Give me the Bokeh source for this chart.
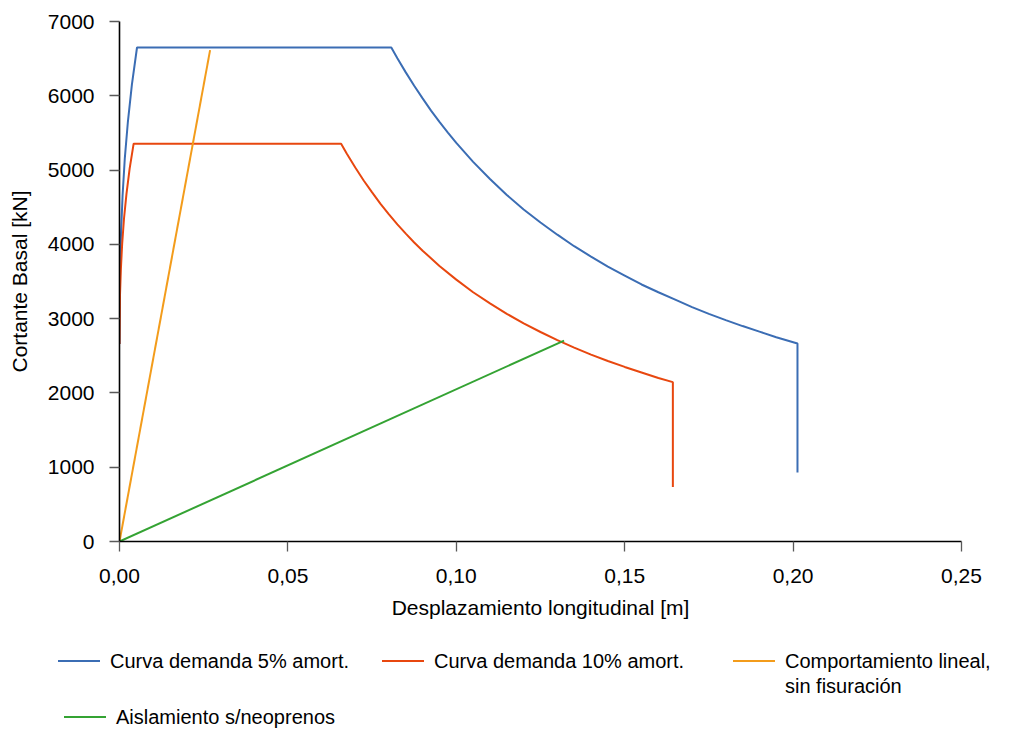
from bokeh.plotting import figure
from bokeh.layouts import column
from bokeh.models import Range1d, FixedTicker, CustomJSTickFormatter, Div
from bokeh.embed import file_html
from bokeh.resources import INLINE

# Demand curves (displacement [m] vs base shear [kN])
demand5_x = [0.0, 0.00004, 0.00018, 0.00046, 0.00091, 0.00157, 0.00249, 0.00368, 0.0052,
             0.0807, 0.0825, 0.085, 0.0875, 0.090, 0.0925, 0.095, 0.0975, 0.100, 0.105,
             0.110, 0.115, 0.120, 0.125, 0.130, 0.135, 0.140, 0.145, 0.150, 0.155,
             0.160, 0.165, 0.170, 0.175, 0.180, 0.185, 0.190, 0.195, 0.2013, 0.2013]
demand5_y = [2660, 3160, 3655, 4155, 4655, 5155, 5650, 6150, 6650,
             6650, 6505, 6315, 6135, 5965, 5800, 5650, 5505, 5365, 5110,
             4880, 4665, 4470, 4295, 4130, 3975, 3835, 3700, 3580, 3460,
             3355, 3255, 3155, 3065, 2980, 2900, 2825, 2750, 2665, 930]

demand10_x = [0.0, 0.00016, 0.00041, 0.00079, 0.00133, 0.00207, 0.00301, 0.0042,
              0.0658, 0.0675, 0.070, 0.0725, 0.075, 0.0775, 0.080, 0.0825, 0.085, 0.0875,
              0.090, 0.095, 0.100, 0.105, 0.110, 0.115, 0.120, 0.125, 0.130, 0.135,
              0.140, 0.145, 0.150, 0.155, 0.160, 0.1643, 0.1643]
demand10_y = [2660, 3335, 3670, 4005, 4345, 4680, 5020, 5355,
              5355, 5220, 5035, 4860, 4700, 4545, 4405, 4270, 4145, 4025,
              3915, 3710, 3525, 3355, 3205, 3065, 2935, 2820, 2710, 2610,
              2515, 2430, 2350, 2275, 2200, 2145, 735]

linear_x = [0.0, 0.0269]
linear_y = [0, 6615]

isolation_x = [0.0, 0.132]
isolation_y = [0, 2705]

x_ticks = [0.0, 0.05, 0.10, 0.15, 0.20, 0.25]
y_ticks = [0, 1000, 2000, 3000, 4000, 5000, 6000, 7000]

series_labels = ["Curva demanda 5% amort.", "Curva demanda 10% amort.",
                 "Comportamiento lineal,<br>sin fisuración", "Aislamiento s/neoprenos"]
series_colors = ["#3B6DB4", "#E8470F", "#F39C1B", "#34A333"]

FONT = "Liberation Sans"
FS = "21px"

p = figure(width=1011, height=640, output_backend="svg", toolbar_location=None,
           x_range=Range1d(0, 0.25), y_range=Range1d(0, 7000),
           min_border_left=119, min_border_right=50, min_border_top=21, min_border_bottom=99)
p.outline_line_color = None
p.xgrid.visible = False
p.ygrid.visible = False

for ax in (p.xaxis[0], p.yaxis[0]):
    ax.axis_line_color = "black"
    ax.axis_line_width = 1.6
    ax.major_tick_line_color = "#595959"
    ax.major_tick_line_width = 1.3
    ax.major_tick_in = 0
    ax.major_tick_out = 10
    ax.minor_tick_line_color = None
    ax.major_label_text_font = FONT
    ax.major_label_text_font_size = FS
    ax.major_label_text_color = "black"
    ax.axis_label_text_font = FONT
    ax.axis_label_text_font_size = FS
    ax.axis_label_text_font_style = "normal"
    ax.axis_label_text_color = "black"

p.xaxis.ticker = FixedTicker(ticks=x_ticks)
p.xaxis.formatter = CustomJSTickFormatter(code="return tick.toFixed(2).replace('.', ',');")
p.xaxis.axis_label = "Desplazamiento longitudinal [m]"
p.xaxis.major_label_standoff = 17
p.xaxis.axis_label_standoff = 10

p.yaxis.ticker = FixedTicker(ticks=y_ticks)
p.yaxis.axis_label = "Cortante Basal [kN]"
p.yaxis.major_label_standoff = 15
p.yaxis.axis_label_standoff = 14

series = [(demand5_x, demand5_y), (demand10_x, demand10_y),
          (linear_x, linear_y), (isolation_x, isolation_y)]
for (xs, ys), color in zip(series, series_colors):
    p.line(xs, ys, line_color=color, line_width=2)

# Legend strip under the chart: swatch position (left, row centre) per entry
entry_pos = [(58, 21), (382, 21), (733, 21), (64, 77)]
parts = []
for label, color, (left, cy) in zip(series_labels, series_colors, entry_pos):
    parts.append(
        f'<div style="position:absolute;left:{left}px;top:{cy - 1}px;width:42px;'
        f'height:2px;background:{color};"></div>'
        f'<div style="position:absolute;left:{left + 52}px;top:{cy - 12}px;'
        f'line-height:25px;white-space:nowrap;">{label}</div>')
legend_html = (f'<div style="position:relative;width:1011px;height:89px;'
               f'font-family:\'{FONT}\';font-size:20px;color:#000;">' + "".join(parts) + "</div>")
legend = Div(text=legend_html, width=1011, height=89, margin=0)

open("out.html", "w").write(file_html(column(p, legend, spacing=0), INLINE))
